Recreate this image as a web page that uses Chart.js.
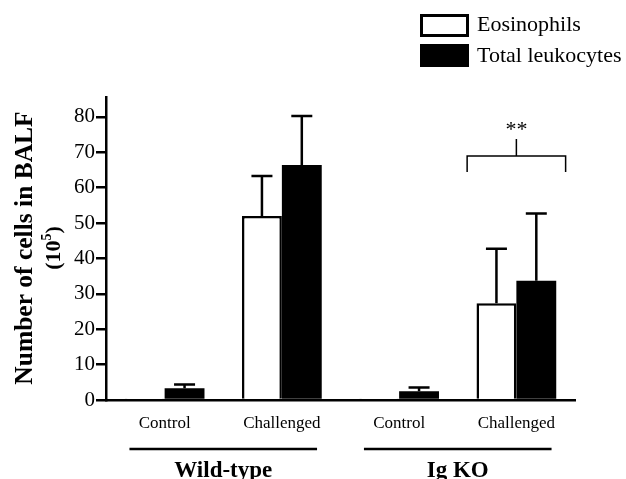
<!DOCTYPE html>
<html>
<head>
<meta charset="utf-8">
<script src="https://cdn.jsdelivr.net/npm/chart.js@4"></script>
<style>
html, body { margin: 0; padding: 0; background: #fff; }
</style>
</head>
<body>
<canvas id="chart" width="626" height="479"></canvas>
<script>
const categories = ['Control', 'Challenged', 'Control', 'Challenged']
const groups = ['Wild-type', 'Ig KO']
const eosinophils = [0.2, 52, 0.2, 27.3]
const eosinophilsErr = [0, 11.3, 0, 15.4]
const leukocytes = [3.3, 66.4, 2.5, 33.7]
const leukocytesErr = [1.1, 13.8, 1.0, 19.0]
const yTicks = [0, 10, 20, 30, 40, 50, 60, 70, 80]
// significance bracket over Ig KO challenged (y values on the data scale)
const bracket = { category: 3, legs: 64.4, bar: 68.9, stem: 73.7, text: 77.3, label: '**' }

const serif = '"Liberation Serif", "Times New Roman", serif'

const errorBars = {
    id: 'errorBars',
    afterDatasetsDraw(chart) {
        const ctx = chart.ctx
        const y = chart.scales.y
        const errs = [eosinophilsErr, leukocytesErr]
        ctx.save()
        ctx.strokeStyle = '#000'
        ctx.lineWidth = 2.5
        chart.data.datasets.forEach((ds, i) => {
            chart.getDatasetMeta(i).data.forEach((bar, j) => {
                const e = errs[i][j]
                if (!e) return
                const top = y.getPixelForValue(ds.data[j] + e)
                ctx.beginPath()
                ctx.moveTo(bar.x, bar.y)
                ctx.lineTo(bar.x, top)
                ctx.moveTo(bar.x - 10.5, top)
                ctx.lineTo(bar.x + 10.5, top)
                ctx.stroke()
            })
        })
        ctx.restore()
    }
}

const extras = {
    id: 'extras',
    afterDraw(chart) {
        const ctx = chart.ctx
        const x = chart.scales.x
        const y = chart.scales.y
        const w = x.width / categories.length
        ctx.save()
        ctx.fillStyle = '#000'
        ctx.strokeStyle = '#000'

        // y title
        ctx.save()
        ctx.translate(25, 248)
        ctx.rotate(-Math.PI / 2)
        ctx.textAlign = 'center'
        ctx.textBaseline = 'middle'
        ctx.font = 'bold 25.5px ' + serif
        ctx.fillText('Number of cells in BALF', 0, 0)
        ctx.translate(0, 29)
        ctx.font = 'bold 22px ' + serif
        const a = '(10', b = ')'
        const wa = ctx.measureText(a).width, wb = ctx.measureText(b).width
        ctx.font = 'bold 14px ' + serif
        const ws = ctx.measureText('5').width
        let sx = -(wa + ws + wb) / 2
        ctx.textAlign = 'left'
        ctx.font = 'bold 22px ' + serif
        ctx.fillText(a, sx, 0)
        ctx.font = 'bold 14px ' + serif
        ctx.fillText('5', sx + wa, -7)
        ctx.font = 'bold 22px ' + serif
        ctx.fillText(b, sx + wa + ws, 0)
        ctx.restore()

        // group underlines and labels
        ctx.lineWidth = 2.5
        ctx.textAlign = 'center'
        ctx.textBaseline = 'middle'
        ctx.font = 'bold 23px ' + serif
        groups.forEach((g, k) => {
            const x0 = x.getPixelForValue(k * 2) - 0.3 * w
            const x1 = x.getPixelForValue(k * 2 + 1) + 0.3 * w
            ctx.beginPath()
            ctx.moveTo(x0, 449)
            ctx.lineTo(x1, 449)
            ctx.stroke()
            ctx.fillText(g, (x0 + x1) / 2, 471)
        })

        // bracket
        const cx = x.getPixelForValue(bracket.category)
        const bl = cx - 0.42 * w, br = cx + 0.42 * w
        ctx.lineWidth = 1.5
        ctx.beginPath()
        ctx.moveTo(bl, y.getPixelForValue(bracket.legs))
        ctx.lineTo(bl, y.getPixelForValue(bracket.bar))
        ctx.lineTo(br, y.getPixelForValue(bracket.bar))
        ctx.lineTo(br, y.getPixelForValue(bracket.legs))
        ctx.moveTo(cx, y.getPixelForValue(bracket.bar))
        ctx.lineTo(cx, y.getPixelForValue(bracket.stem))
        ctx.stroke()
        ctx.font = '22px ' + serif
        ctx.fillText(bracket.label, cx, y.getPixelForValue(bracket.text) + 4)

        // legend
        const names = chart.data.datasets.map(d => d.label)
        ctx.lineWidth = 3
        ctx.strokeRect(421.5, 15.5, 46, 20)
        ctx.fillRect(420, 44, 49, 23)
        ctx.font = '22px ' + serif
        ctx.textAlign = 'left'
        ctx.fillText(names[0], 477, 25)
        ctx.fillText(names[1], 477, 56)
        ctx.restore()
    }
}

const ctx = document.getElementById('chart')
const myChart = new Chart(ctx, {
    type: 'bar',
    data: {
        labels: categories,
        datasets: [
            {
                label: 'Eosinophils',
                data: eosinophils,
                backgroundColor: '#fff',
                borderColor: '#000',
                borderWidth: 2.5
            },
            {
                label: 'Total leukocytes',
                data: leukocytes,
                backgroundColor: '#000',
                borderColor: '#000',
                borderWidth: 0
            }
        ]
    },
    options: {
        responsive: false,
        animation: false,
        layout: { padding: { top: 97, right: 51, left: 0, bottom: 0 } },
        datasets: { bar: { categoryPercentage: 0.68, barPercentage: 1 } },
        scales: {
            x: {
                grid: { drawOnChartArea: false, drawTicks: false },
                border: { color: '#000', width: 2.5 },
                ticks: { color: '#000', padding: 13, font: { family: serif, size: 17 } },
                afterFit(scale) { scale.height = 79 }
            },
            y: {
                min: 0,
                max: 85.6,
                grid: { drawOnChartArea: false, drawTicks: true, tickLength: 10, color: '#000', lineWidth: 2.5 },
                border: { color: '#000', width: 2.5 },
                ticks: { color: '#000', padding: 1, font: { family: serif, size: 21 } },
                afterBuildTicks(scale) { scale.ticks = yTicks.map(v => ({ value: v })) },
                afterFit(scale) { scale.width = 106 }
            }
        },
        plugins: {
            legend: { display: false },
            tooltip: { enabled: false }
        }
    },
    plugins: [errorBars, extras]
})
</script>
</body>
</html>
